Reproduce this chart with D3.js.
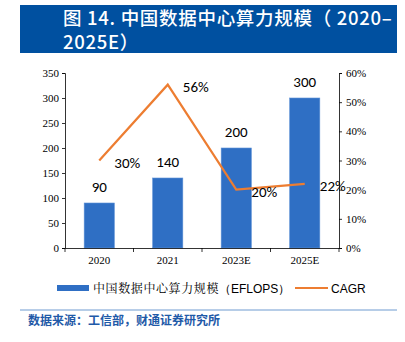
<!DOCTYPE html>
<html><head><meta charset="utf-8">
<script src="https://cdn.jsdelivr.net/npm/d3@7"></script>
<style>body{margin:0;background:#fff}svg{display:block}</style>
</head><body>
<script>
const categories = ["2020", "2021", "2023E", "2025E"];
const computeValues = [90, 140, 200, 300];
const cagrValues = [0.30, 0.56, 0.20, 0.22];
const cagrLabels = ["30%", "56%", "20%", "22%"];
const leftTicks = [0, 50, 100, 150, 200, 250, 300, 350];
const rightTicks = [0, 0.1, 0.2, 0.3, 0.4, 0.5, 0.6];
const titleLines = ["图 14. 中国数据中心算力规模（ 2020–", "2025E）"];
const legendCJK = "中国数据中心算力规模";
const legendLatin = "（EFLOPS）";
const legendLine = "CAGR";
const sourceText = "数据来源：工信部，财通证券研究所";

const W = 405, H = 342;
const svg = d3.select("body").append("svg").attr("width", W).attr("height", H);

// Title bar
svg.append("rect").attr("x", 20).attr("y", 5).attr("width", 377).attr("height", 48).attr("fill", "#0050a0");
svg.selectAll(".title").data(titleLines).enter().append("text")
  .attr("x", 63).attr("y", (d, i) => 25 + i * 24)
  .attr("fill", "#fff").attr("font-family", "'Noto Sans CJK SC', sans-serif")
  .attr("font-size", 18.5).attr("font-weight", 500).attr("letter-spacing", 0.7).text(d => d);

const x0 = 65, x1 = 339, yTop = 73, yBot = 248;
const x = d3.scaleBand().domain(categories).range([x0, x1]).paddingInner(0.56).paddingOuter(0.28);
const yL = d3.scaleLinear().domain([0, 350]).range([yBot, yTop]);
const yR = d3.scaleLinear().domain([0, 0.6]).range([yBot, yTop]);

const serif = "'Liberation Serif', 'Times New Roman', serif";
const sans = "Carlito, 'Liberation Sans', 'Noto Sans', sans-serif";

// bars
svg.selectAll(".bar").data(computeValues).enter().append("rect")
  .attr("x", (d, i) => x(categories[i])).attr("width", x.bandwidth())
  .attr("y", d => yL(d)).attr("height", d => yBot - yL(d))
  .attr("fill", "#2f6fc4").attr("stroke", "#5b8fd6").attr("stroke-width", 0.6);

// axes
const axL = d3.axisLeft(yL).tickValues(leftTicks).tickSize(3).tickPadding(3);
const gL = svg.append("g").attr("transform", `translate(${x0},0)`).call(axL);
const axR = d3.axisRight(yR).tickValues(rightTicks).tickSize(3).tickPadding(4).tickFormat(d3.format(".0%"));
const gR = svg.append("g").attr("transform", `translate(${x1},0)`).call(axR);
const axB = d3.axisBottom(x).tickSize(0).tickPadding(8);
const gB = svg.append("g").attr("transform", `translate(0,${yBot})`).call(axB);
const bounds = [x0, ...categories.slice(1).map(c => x(c) - x.step() * x.paddingInner() / 2), x1];
svg.selectAll(".bt").data(bounds).enter().append("line")
  .attr("x1", d => d).attr("x2", d => d).attr("y1", yBot).attr("y2", yBot + 4)
  .attr("stroke", "#000").attr("stroke-width", 0.8);

[gL, gR, gB].forEach(g => {
  g.selectAll("path").attr("stroke", "#000").attr("stroke-width", 0.8);
  g.selectAll("line").attr("stroke", "#000").attr("stroke-width", 0.8);
  g.selectAll("text").attr("font-family", serif).attr("font-size", 11).attr("fill", "#000");
});

// line
const line = d3.line().x((d, i) => x(categories[i]) + x.bandwidth() / 2).y(d => yR(d));
svg.append("path").datum(cagrValues).attr("d", line).attr("fill", "none")
  .attr("stroke", "#ed7d31").attr("stroke-width", 2.2);

// bar labels
svg.selectAll(".bl").data(computeValues).enter().append("text")
  .attr("x", (d, i) => x(categories[i]) + x.bandwidth() / 2).attr("y", d => yL(d) - 11)
  .attr("text-anchor", "middle").attr("font-family", sans).attr("font-size", 15).attr("fill", "#000")
  .text(d => d);

// cagr labels
svg.selectAll(".cl").data(cagrValues).enter().append("text")
  .attr("x", (d, i) => x(categories[i]) + x.bandwidth() / 2 + 28).attr("y", d => yR(d) + 7)
  .attr("text-anchor", "middle").attr("font-family", sans).attr("font-size", 15).attr("fill", "#000")
  .text((d, i) => cagrLabels[i]);

// legend
svg.append("rect").attr("x", 57).attr("y", 285).attr("width", 32).attr("height", 6).attr("fill", "#2f6fc4");
const lt = svg.append("text").attr("x", 93).attr("y", 293).attr("font-size", 12).attr("fill", "#000");
lt.append("tspan").attr("font-family", "'Noto Serif CJK SC', 'Noto Sans CJK SC', serif").attr("letter-spacing", 0.6).text(legendCJK);
lt.append("tspan").attr("font-family", "'Liberation Sans', sans-serif").text(legendLatin);
svg.append("line").attr("x1", 295).attr("x2", 328).attr("y1", 288).attr("y2", 288)
  .attr("stroke", "#ed7d31").attr("stroke-width", 2.2);
svg.append("text").attr("x", 331).attr("y", 293).attr("font-family", "'Liberation Sans', sans-serif")
  .attr("font-size", 12).attr("fill", "#000").text(legendLine);

// separator and source
svg.append("line").attr("x1", 20).attr("x2", 397).attr("y1", 310).attr("y2", 310)
  .attr("stroke", "#6f9bd0").attr("stroke-width", 1);
svg.append("text").attr("x", 28).attr("y", 325).attr("font-family", "'Noto Sans CJK SC', sans-serif")
  .attr("font-size", 12).attr("font-weight", "bold").attr("fill", "#1f5aa8").text(sourceText);
</script>
</body></html>
